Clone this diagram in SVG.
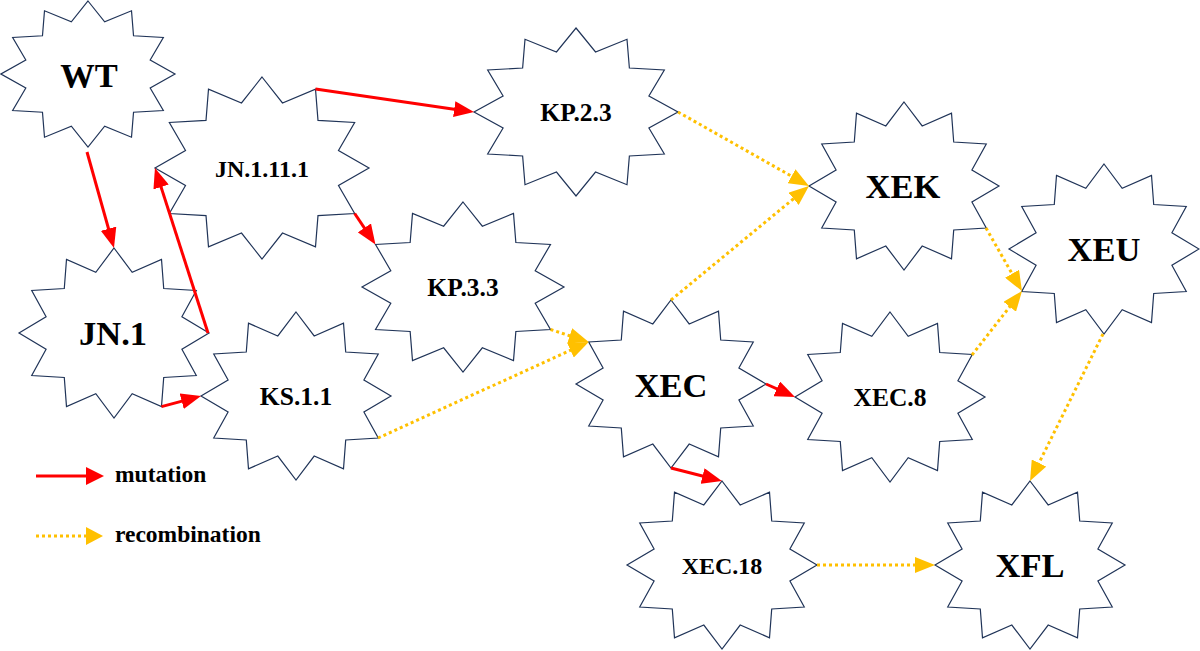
<svg xmlns="http://www.w3.org/2000/svg" xmlns:xlink="http://www.w3.org/1999/xlink" width="1200" height="651" viewBox="0 0 1200 651">
<style>
.star{fill:#fff;stroke:#203458;stroke-width:1.2;stroke-linejoin:miter}
.lbl{font-family:"Liberation Serif","Times New Roman",serif;font-weight:bold;fill:#000;text-anchor:middle}
.big{font-size:34.5px}
.small{font-size:25.5px}
.mut{stroke:#FF0000;stroke-width:3;fill:none}
.rec{stroke:#FFC000;stroke-width:3;fill:none;stroke-dasharray:3 3}
.leg{font-family:"Liberation Serif","Times New Roman",serif;font-weight:bold;font-size:23.5px;fill:#000}
</style>
<defs>
<path id="star" vector-effect="non-scaling-stroke" d="M0,-100 L19.15,-71.48 L50,-86.6 L52.33,-52.33 L86.6,-50 L71.48,-19.15 L100,0 L71.48,19.15 L86.6,50 L52.33,52.33 L50,86.6 L19.15,71.48 L0,100 L-19.15,71.48 L-50,86.6 L-52.33,52.33 L-86.6,50 L-71.48,19.15 L-100,0 L-71.48,-19.15 L-86.6,-50 L-52.33,-52.33 L-50,-86.6 L-19.15,-71.48 Z"/>
<marker id="aR" markerUnits="userSpaceOnUse" markerWidth="20" markerHeight="16" refX="12" refY="8" orient="auto" viewBox="0 0 20 16"><path d="M0,0 L20,8 L0,16 Z" fill="#FF0000"/></marker>
<marker id="aY" markerUnits="userSpaceOnUse" markerWidth="20" markerHeight="16" refX="12" refY="8" orient="auto" viewBox="0 0 20 16"><path d="M0,0 L20,8 L0,16 Z" fill="#FFC000"/></marker>
</defs>

<g id="node-WT"><use xlink:href="#star" class="star" transform="translate(88,74) scale(0.87,0.73)"/><text class="lbl big" x="89" y="87">WT</text></g>
<g id="node-JN1"><use xlink:href="#star" class="star" transform="translate(114,333) scale(0.95,0.85)"/><text class="lbl big" x="113" y="345">JN.1</text></g>
<g id="node-JN11111"><use xlink:href="#star" class="star" transform="translate(262,168) scale(1.07,0.91)"/><text class="lbl small" x="262" y="177" style="font-size:24px">JN.1.11.1</text></g>
<g id="node-KS11"><use xlink:href="#star" class="star" transform="translate(296,396) scale(0.95,0.84)"/><text class="lbl small" x="296" y="405">KS.1.1</text></g>
<g id="node-KP23"><use xlink:href="#star" class="star" transform="translate(576,112) scale(1.02,0.84)"/><text class="lbl small" x="576" y="121">KP.2.3</text></g>
<g id="node-KP33"><use xlink:href="#star" class="star" transform="translate(463,287) scale(1.01,0.85)"/><text class="lbl small" x="463" y="296">KP.3.3</text></g>
<g id="node-XEC"><use xlink:href="#star" class="star" transform="translate(671,384) scale(0.95,0.84)"/><text class="lbl big" x="671" y="397">XEC</text></g>
<g id="node-XEK"><use xlink:href="#star" class="star" transform="translate(904,186) scale(0.95,0.84)"/><text class="lbl big" x="903" y="198">XEK</text></g>
<g id="node-XEC8"><use xlink:href="#star" class="star" transform="translate(890,397) scale(0.95,0.85)"/><text class="lbl small" x="890" y="406">XEC.8</text></g>
<g id="node-XEU"><use xlink:href="#star" class="star" transform="translate(1104,249) scale(0.95,0.85)"/><text class="lbl big" x="1104" y="261">XEU</text></g>
<g id="node-XEC18"><use xlink:href="#star" class="star" transform="translate(722,565) scale(0.95,0.84)"/><text class="lbl small" x="722" y="574" style="font-size:24px">XEC.18</text></g>
<g id="node-XFL"><use xlink:href="#star" class="star" transform="translate(1030,565) scale(0.95,0.84)"/><text class="lbl big" x="1030" y="577">XFL</text></g>

<g id="connectors">
<line class="mut" x1="87" y1="152" x2="111.8" y2="240.3" marker-end="url(#aR)"/>
<line class="mut" x1="208" y1="333" x2="157.4" y2="175.6" marker-end="url(#aR)"/>
<line class="mut" x1="161.5" y1="406.6" x2="193.3" y2="398.1" marker-end="url(#aR)"/>
<line class="mut" x1="315.5" y1="89" x2="466.1" y2="110.9" marker-end="url(#aR)"/>
<line class="mut" x1="354.7" y1="213.5" x2="371" y2="237.9" marker-end="url(#aR)"/>
<line class="mut" x1="766" y1="384" x2="787.7" y2="393.7" marker-end="url(#aR)"/>
<line class="mut" x1="671" y1="468" x2="714.2" y2="479" marker-end="url(#aR)"/>
<line class="rec" x1="678" y1="112" x2="802" y2="182.1" marker-end="url(#aY)"/>
<line class="rec" x1="671" y1="300" x2="802.8" y2="191.1" marker-end="url(#aY)"/>
<line class="rec" x1="550.5" y1="329.5" x2="581.1" y2="339.5" marker-end="url(#aY)"/>
<line class="rec" x1="378" y1="438" x2="581.4" y2="345.3" marker-end="url(#aY)"/>
<line class="rec" x1="986" y1="228" x2="1018" y2="284.1" marker-end="url(#aY)"/>
<line class="rec" x1="972" y1="355" x2="1017.1" y2="297.3" marker-end="url(#aY)"/>
<line class="rec" x1="1103" y1="334" x2="1033.6" y2="473.8" marker-end="url(#aY)"/>
<line class="rec" x1="817" y1="565" x2="927" y2="565" marker-end="url(#aY)"/>
</g>

<g id="legend">
<line class="mut" x1="36" y1="476" x2="92" y2="476"/>
<path d="M86,467 L104,476 L86,485 Z" fill="#FF0000"/>
<text class="leg" x="115" y="482">mutation</text>
<line class="rec" x1="36" y1="536" x2="92" y2="536"/>
<path d="M86,527 L103,536 L86,545 Z" fill="#FFC000"/>
<text class="leg" x="115" y="542">recombination</text>
</g>
</svg>
